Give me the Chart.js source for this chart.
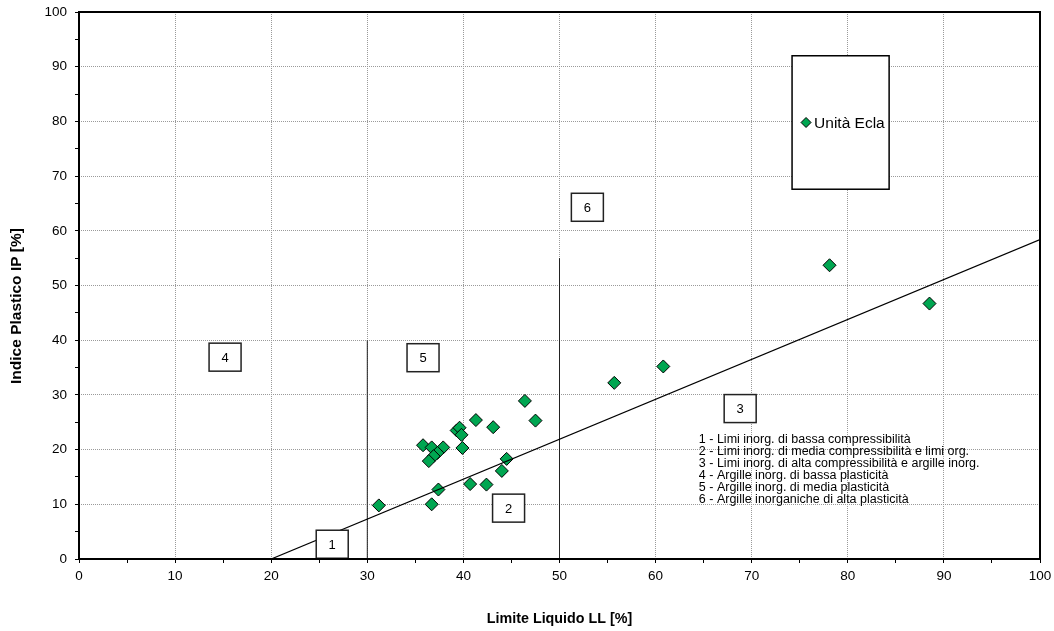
<!DOCTYPE html>
<html>
<head>
<meta charset="utf-8">
<script src="https://cdn.jsdelivr.net/npm/chart.js@4"></script>
<style>
  body { margin: 0; background: #fff; }
  canvas { display: block; }
</style>
</head>
<body>
<canvas id="plasticity" width="1054" height="631"></canvas>
<script>
// Carta di plasticità di Casagrande - campioni Unità Ecla
const seriesName = 'Unità Ecla';
const limiteLiquido = [31.2, 36.7, 37.4, 40.7, 42.4, 44.0, 44.5, 46.4, 47.5, 41.3, 43.1, 39.3, 39.6, 39.8, 39.9, 35.8, 36.7, 37.9, 37.3, 36.9, 36.4, 55.7, 60.8, 78.1, 88.5];
const indicePlastico = [9.8, 10.0, 12.7, 13.7, 13.6, 16.1, 18.3, 28.9, 25.3, 25.4, 24.1, 23.5, 24.0, 22.7, 20.3, 20.8, 20.4, 20.4, 19.4, 18.8, 17.9, 32.2, 35.2, 53.7, 46.7];

// linea A: IP = 0.73 (LL - 20)
const lineaA_LL = [20, 100];
const lineaA_IP = lineaA_LL.map(v => 0.73 * (v - 20));
// limiti verticali LL = 30 e LL = 50
const limiteLL = [30, 50];
const limiteTop = [40, 55];

const xTicks = [0, 10, 20, 30, 40, 50, 60, 70, 80, 90, 100];
const yTicks = [0, 10, 20, 30, 40, 50, 60, 70, 80, 90, 100];

const zoneLabels = ['1', '2', '3', '4', '5', '6'];
const legenda = [
  '1 - Limi inorg. di bassa compressibilità',
  '2 - Limi inorg. di media compressibilità e limi org.',
  '3 - Limi inorg. di alta compressibilità e argille inorg.',
  '4 - Argille inorg. di bassa plasticità',
  '5 - Argille inorg. di media plasticità',
  '6 - Argille inorganiche di alta plasticità'
];

const FONT = "'Liberation Sans', Arial, sans-serif";
const GREEN = '#00a651';

// box positions (LL, IP) for zone numbers
const zoneAt = [[26.35, 2.7], [44.7, 9.3], [68.8, 27.5], [15.2, 36.9], [35.8, 36.8], [52.9, 64.3]];

const extras = {
  id: 'extras',
  afterDatasetsDraw(chart) {
    const { ctx, chartArea: a, scales: { x, y } } = chart;
    ctx.save();

    // zone boxes
    ctx.font = '13px ' + FONT;
    ctx.textAlign = 'center';
    ctx.textBaseline = 'middle';
    zoneLabels.forEach((lab, i) => {
      const cx = x.getPixelForValue(zoneAt[i][0]);
      const cy = y.getPixelForValue(zoneAt[i][1]);
      ctx.fillStyle = '#fff';
      ctx.fillRect(cx - 16, cy - 14, 32, 28);
      ctx.strokeStyle = '#222';
      ctx.lineWidth = 1.5;
      ctx.strokeRect(cx - 16, cy - 14, 32, 28);
      ctx.fillStyle = '#000';
      ctx.fillText(lab, cx, cy + 1);
    });

    // legend text block
    ctx.font = '12.5px ' + FONT;
    ctx.textAlign = 'left';
    let tx = x.getPixelForValue(64.5), ty = y.getPixelForValue(21.9);
    legenda.forEach((t, i) => ctx.fillText(t, tx, ty + i * 12.1));

    // series legend box
    const lx1 = x.getPixelForValue(74.2), lx2 = x.getPixelForValue(84.3);
    const ly1 = y.getPixelForValue(92.0), ly2 = y.getPixelForValue(67.6);
    ctx.fillStyle = '#fff';
    ctx.fillRect(lx1, ly1, lx2 - lx1, ly2 - ly1);
    ctx.strokeStyle = '#000';
    ctx.lineWidth = 1.5;
    ctx.strokeRect(lx1, ly1, lx2 - lx1, ly2 - ly1);
    const my = (ly1 + ly2) / 2;
    const mx = lx1 + 14;
    ctx.beginPath();
    ctx.moveTo(mx - 5, my); ctx.lineTo(mx, my - 5); ctx.lineTo(mx + 5, my); ctx.lineTo(mx, my + 5); ctx.closePath();
    ctx.fillStyle = GREEN; ctx.fill();
    ctx.strokeStyle = '#000'; ctx.lineWidth = 1; ctx.stroke();
    ctx.fillStyle = '#000';
    ctx.font = '15.5px ' + FONT;
    ctx.fillText(seriesName, lx1 + 22, my + 1);

    // plot frame
    ctx.strokeStyle = '#000';
    ctx.lineWidth = 2;
    ctx.strokeRect(a.left, a.top, a.right - a.left, a.bottom - a.top);

    // y axis title
    ctx.translate(17, 306);
    ctx.rotate(-Math.PI / 2);
    ctx.textAlign = 'center';
    ctx.font = 'bold 15.5px ' + FONT;
    ctx.fillText('Indice Plastico IP [%]', 0, 0);
    ctx.restore();
  }
};

const gridColor = c => (c.tick && c.tick.value % 10 === 0) ? '#9a9a9a' : 'rgba(0,0,0,0)';

new Chart(document.getElementById('plasticity').getContext('2d'), {
  type: 'scatter',
  data: {
    datasets: [
      {
        label: 'Linea A',
        data: lineaA_LL.map((v, i) => ({ x: v, y: lineaA_IP[i] })),
        showLine: true, borderColor: '#000', borderWidth: 1.2, pointRadius: 0, order: 1
      },
      ...limiteLL.map((v, i) => ({
        label: 'LL ' + v,
        data: [{ x: v, y: 0 }, { x: v, y: limiteTop[i] }],
        showLine: true, borderColor: '#222', borderWidth: 1, pointRadius: 0, order: 1
      })),
      {
        label: seriesName,
        data: limiteLiquido.map((v, i) => ({ x: v, y: indicePlastico[i] })),
        pointStyle: 'rectRot', pointRadius: 6.5, pointHoverRadius: 6.5,
        backgroundColor: GREEN, borderColor: '#000', borderWidth: 1, order: 2
      }
    ]
  },
  options: {
    responsive: false,
    animation: false,
    devicePixelRatio: 1,
    layout: { padding: { top: 12, right: 14, left: 0, bottom: 0 } },
    plugins: { legend: { display: false }, tooltip: { enabled: false } },
    scales: {
      x: {
        min: 0, max: 100,
        afterFit: s => { s.height = 72; s.paddingLeft = 0; s.paddingRight = 0; },
        ticks: {
          stepSize: 5, autoSkip: false, maxRotation: 0, padding: 5,
          color: '#000', font: { family: FONT, size: 13.5 },
          callback: v => xTicks.includes(v) ? v : ''
        },
        grid: { color: gridColor, lineWidth: 1, tickColor: '#000', tickLength: 4, tickWidth: 1 },
        border: { display: false, dash: [1, 1] },
        title: {
          display: true, text: 'Limite Liquido LL [%]', color: '#000',
          font: { family: FONT, size: 14.3, weight: 'bold' }, padding: { top: 0, bottom: 3 }
        }
      },
      y: {
        min: 0, max: 100,
        afterFit: s => { s.width = 79; s.paddingTop = 0; s.paddingBottom = 0; },
        ticks: {
          stepSize: 5, autoSkip: false, padding: 8,
          color: '#000', font: { family: FONT, size: 13.5 },
          callback: v => yTicks.includes(v) ? v : ''
        },
        grid: { color: gridColor, lineWidth: 1, tickColor: '#000', tickLength: 4, tickWidth: 1 },
        border: { display: false, dash: [1, 1] }
      }
    }
  },
  plugins: [extras]
});
</script>
</body>
</html>
